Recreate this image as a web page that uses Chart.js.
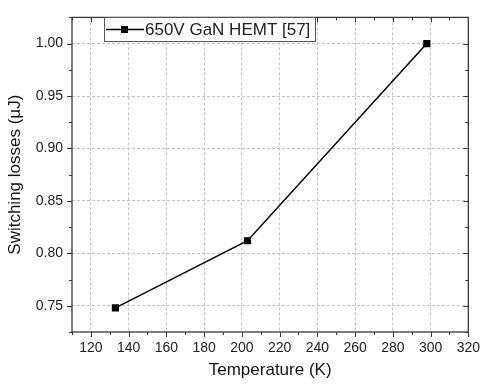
<!DOCTYPE html>
<html><head><meta charset="utf-8">
<script src="https://cdn.jsdelivr.net/npm/chart.js@4.4.1/dist/chart.umd.min.js"></script>
<style>html,body{margin:0;padding:0;background:#fff}#wrap{width:488px;height:385px}</style>
</head><body><div id="wrap"><canvas id="c" width="488" height="385"></canvas></div>
<script>
const seriesLabel = '650V GaN HEMT [57]';
const temperatures = [133, 203, 298];
const losses = [0.748, 0.812, 1.000];
const xTicks = [120,140,160,180,200,220,240,260,280,300,320];
const yTicks = [0.75,0.80,0.85,0.90,0.95,1.00];

const FONT = "'Liberation Sans', Arial, sans-serif";
const AX = '#3a3a3a';

const frame = {
  id: 'frame',
  afterDatasetsDraw(chart) {
    const {ctx, chartArea: a, scales: {x, y}} = chart;
    ctx.save();
    ctx.strokeStyle = AX; ctx.lineWidth = 1.3;
    ctx.strokeRect(a.left, a.top, a.right - a.left, a.bottom - a.top);
    ctx.lineWidth = 1;
    ctx.beginPath();
    for (let v = 110; v <= 320; v += 10) {
      const px = Math.round(x.getPixelForValue(v)) + 0.5;
      const major = v % 20 === 0;
      const L = major ? 5 : 3;
      ctx.moveTo(px, a.bottom); ctx.lineTo(px, a.bottom + L);
      ctx.moveTo(px, a.top); ctx.lineTo(px, a.top + L);
    }
    for (let i = 0; i <= 12; i++) {
      const v = 0.725 + i * 0.025;
      const py = Math.round(y.getPixelForValue(v)) + 0.5;
      const major = i % 2 === 1;
      const L = major ? 5 : 3;
      ctx.moveTo(a.left, py); ctx.lineTo(a.left - L, py);
      ctx.moveTo(a.right, py); ctx.lineTo(a.right - L, py);
    }
    ctx.stroke();
    // legend
    const bx = 104, by = 17, bw = 211, bh = 24;
    ctx.fillStyle = '#fff';
    ctx.fillRect(bx, by, bw, bh);
    ctx.strokeStyle = '#555'; ctx.lineWidth = 1;
    ctx.strokeRect(bx + 0.5, by + 0.5, bw, bh);
    const cy = by + bh / 2 + 0.5;
    ctx.strokeStyle = '#000'; ctx.lineWidth = 1.5;
    ctx.beginPath(); ctx.moveTo(bx + 2, cy); ctx.lineTo(bx + 40, cy); ctx.stroke();
    ctx.fillStyle = '#000';
    ctx.fillRect(bx + 17, cy - 3.5, 7, 7);
    ctx.font = '17px ' + FONT;
    ctx.textBaseline = 'middle';
    ctx.fillStyle = '#222';
    ctx.fillText(seriesLabel, bx + 41, cy + 1);
    ctx.restore();
  }
};

new Chart(document.getElementById('c'), {
  type: 'scatter',
  data: {
    datasets: [{
      label: seriesLabel,
      data: temperatures.map((t, i) => ({x: t, y: losses[i]})),
      showLine: true,
      borderColor: '#000',
      backgroundColor: '#000',
      borderWidth: 1.5,
      pointStyle: 'rect',
      pointRadius: 4,
      pointHoverRadius: 4
    }]
  },
  options: {
    responsive: false,
    animation: false,
    devicePixelRatio: 1,
    layout: {padding: {top: 7, right: 12, left: 0, bottom: 0}},
    plugins: {legend: {display: false}, tooltip: {enabled: false}},
    scales: {
      x: {
        type: 'linear', min: 110, max: 320,
        afterBuildTicks: s => { s.ticks = xTicks.map(v => ({value: v})); },
        afterFit: s => { s.height = 53; },
        grid: {color: '#c4c4c4', lineWidth: 1, drawTicks: false},
        border: {display: false, dash: [3,2]},
        ticks: {font: {family: FONT, size: 14}, color: '#222', padding: 8, callback: v => v},
        title: {display: true, text: 'Temperature (K)', font: {family: FONT, size: 17}, color: '#111', padding: {top: 2}}
      },
      y: {
        type: 'linear', min: 0.725, max: 1.025,
        afterBuildTicks: s => { s.ticks = yTicks.map(v => ({value: v})); },
        afterFit: s => { s.width = 72; },
        grid: {color: '#c4c4c4', lineWidth: 1, drawTicks: false},
        border: {display: false, dash: [3,2]},
        ticks: {font: {family: FONT, size: 14}, color: '#222', padding: 9, callback: v => v.toFixed(2)},
        title: {display: true, text: 'Switching losses (μJ)', font: {family: FONT, size: 17}, color: '#111', padding: {top: 5, bottom: 0}}
      }
    }
  },
  plugins: [frame]
});
</script>
</body></html>
